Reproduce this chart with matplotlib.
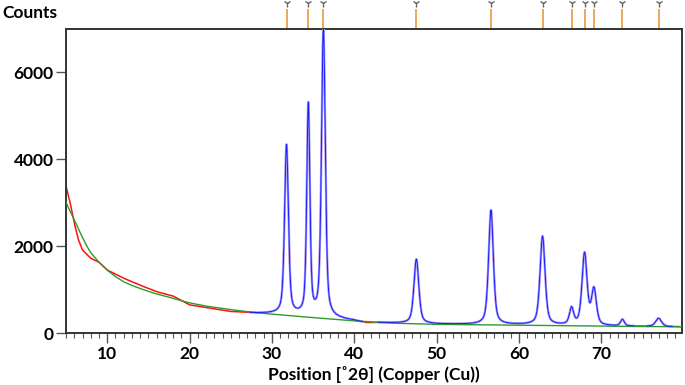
import numpy as np
import matplotlib
matplotlib.use("Agg")
import matplotlib.pyplot as plt
import matplotlib.transforms as mtransforms

plt.rcParams["font.family"] = ["Lato", "DejaVu Sans"]

# =========================
# DATA
# =========================
# reflection positions (2theta), net heights above background, FWHM
PEAK_POS = [31.77, 34.42, 36.25, 47.54, 56.60, 62.86, 66.38, 67.96, 69.10, 72.56, 76.95]
PEAK_HEIGHT = [3900, 4850, 6640, 1480, 2630, 2040, 380, 1650, 820, 150, 190]
PEAK_FWHM = [0.55, 0.45, 0.55, 0.70, 0.68, 0.72, 0.60, 0.72, 0.70, 0.55, 0.85]

# measured background under the pattern
OBS_BG_POS = [5.0, 5.5, 6.0, 6.5, 7.0, 8.0, 9.0, 10.0, 12.0, 14.0, 16.0, 18.0, 20.0,
              25.0, 28.0, 30.0, 33.0, 38.0, 40.0, 41.5, 43.0, 50.0, 55.0, 60.0, 65.0,
              70.0, 75.0, 80.0]
OBS_BG_COUNTS = [3380, 3000, 2530, 2150, 1910, 1720, 1630, 1450, 1260, 1100, 950, 850, 645,
                 490, 455, 440, 400, 320, 280, 225, 235, 205, 195, 190, 175,
                 160, 150, 140]

# fitted background (green)
FIT_BG_POS = [5.0, 5.5, 6.0, 6.5, 7.0, 7.5, 8.0, 9.0, 10.0, 11.0, 12.0, 13.0, 14.0, 15.0,
              16.0, 17.0, 18.0, 19.0, 20.0, 22.0, 25.0, 28.0, 30.0, 35.0, 40.0, 45.0,
              50.0, 55.0, 60.0, 65.0, 70.0, 75.0, 80.0]
FIT_BG_COUNTS = [3010, 2800, 2610, 2400, 2200, 2010, 1850, 1630, 1450, 1300, 1180, 1095, 1025, 960,
                 900, 850, 800, 745, 695, 620, 540, 470, 435, 355, 280, 225,
                 200, 190, 180, 170, 160, 150, 145]

# ranges covered by the calculated profile (blue)
FIT_RANGES = [(27.3, 41.0), (42.9, 74.0), (75.5, 78.6)]

X_TICKS = [10, 20, 30, 40, 50, 60, 70]
Y_TICKS = [0, 2000, 4000, 6000]

# =========================
# PROFILE
# =========================
ETA = 0.5


def pseudo_voigt(x, pos, height, fwhm):
    hw = fwhm / 2.0
    lor = 1.0 / (1.0 + ((x - pos) / hw) ** 2)
    sig = fwhm / 2.3548
    gau = np.exp(-0.5 * ((x - pos) / sig) ** 2)
    return height * (ETA * lor + (1 - ETA) * gau)


two_theta = np.linspace(5, 80, 4000)
observed = np.interp(two_theta, OBS_BG_POS, OBS_BG_COUNTS)
for p, h, w in zip(PEAK_POS, PEAK_HEIGHT, PEAK_FWHM):
    observed = observed + pseudo_voigt(two_theta, p, h, w)

# =========================
# PLOT
# =========================
fig = plt.figure(figsize=(6.85, 3.85), dpi=100)
ax = fig.add_axes([0.0964, 0.135, 0.8993, 0.7896])

ax.plot(two_theta, observed, color="#ff1010", lw=1.1, zorder=2)
for lo, hi in FIT_RANGES:
    m = (two_theta >= lo) & (two_theta <= hi)
    ax.plot(two_theta[m], observed[m], color="#a8a8ff", lw=1.7, zorder=3)
    ax.plot(two_theta[m], observed[m], color="#1a1aff", lw=0.7, zorder=4)
ax.plot(FIT_BG_POS, FIT_BG_COUNTS, color="#2e9a2e", lw=1.0, zorder=3)

ax.set_xlim(5, 79.8)
ax.set_ylim(0, 7000)

ax.set_xticks(X_TICKS)
ax.set_xticks(np.arange(5, 80, 1), minor=True)
ax.set_yticks(Y_TICKS)
ax.tick_params(axis="both", which="major", direction="out", length=7, width=1,
               color="#555555", labelsize=12.5, pad=2)
ax.tick_params(axis="x", which="minor", direction="out", length=3.5, width=0.8, color="#555555")
for lab in ax.get_xticklabels() + ax.get_yticklabels():
    lab.set_fontweight("bold")

for s in ax.spines.values():
    s.set_color("#333333")
    s.set_linewidth(1.4)

# reference markers above the frame
trans = mtransforms.blended_transform_factory(ax.transData, ax.transAxes)
ax.vlines(PEAK_POS, 1.0, 1.065, transform=trans, color="#f0a048", lw=1.3, clip_on=False)
ax.plot(PEAK_POS, [1.085] * len(PEAK_POS), transform=trans, ls="none", marker="1",
        ms=6, mew=1.0, color="#666666", clip_on=False)

fig.text(0.003, 0.967, "Counts", fontsize=12.5, fontweight="bold", ha="left", va="center")
ax.set_xlabel("Position [˚2θ] (Copper (Cu))", fontsize=12.5, fontweight="bold", labelpad=3)

fig.savefig("out.png", dpi=100)
